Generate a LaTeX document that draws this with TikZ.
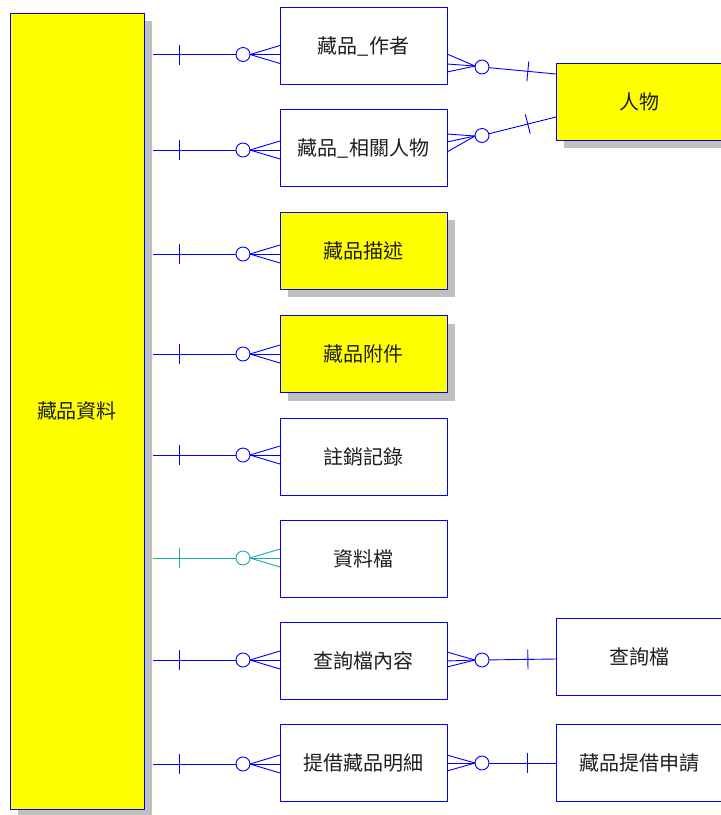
\documentclass[tikz,border=0pt]{standalone}
\usepackage{fontspec}
\newfontfamily\cjk{Noto Sans CJK TC}
\usetikzlibrary{calc,shadows}
\definecolor{erblue}{RGB}{0,0,255}
\definecolor{erteal}{RGB}{30,170,170}
\definecolor{shadowgray}{RGB}{192,192,192}
\definecolor{txt}{RGB}{30,30,30}
\definecolor{eryellow}{RGB}{255,255,0}
\tikzset{
  ent/.style={draw=erblue, line width=0.9pt, fill=white, rectangle, inner sep=0pt, outer sep=0pt,
    minimum width=167pt, minimum height=77pt, font=\cjk\fontsize{20}{23}\selectfont, text=txt},
  entY/.style={ent, fill=eryellow, drop shadow={shadow xshift=8pt, shadow yshift=-8pt, fill=shadowgray, opacity=1}},
  rel/.style={draw=erblue, line width=0.9pt},
  ring/.style={circle, draw=erblue, line width=0.9pt, fill=white, minimum size=14pt, inner sep=0pt, outer sep=0pt},
}
\begin{document}
\begin{tikzpicture}[x=1pt, y=-1pt]
\useasboundingbox (0,0) rectangle (721,815);

% big entity
\node[entY, minimum width=134pt, minimum height=796pt] (main) at (77,411) {藏品資料};

% middle entities
\node[ent]  (r1) at (363.5,46)  {藏品\_作者};
\node[ent]  (r2) at (363.5,148) {藏品\_相關人物};
\node[entY] (r3) at (363.5,250.5) {藏品描述};
\node[entY] (r4) at (363.5,354) {藏品附件};
\node[ent]  (r5) at (363.5,456.5) {註銷記錄};
\node[ent]  (r6) at (363.5,558.5) {資料檔};
\node[ent]  (r7) at (363.5,660.5) {查詢檔內容};
\node[ent]  (r8) at (363.5,762.5) {提借藏品明細};

% right entities
\node[entY] (p)  at (639.5,101.5) {人物};
\node[ent]  (q)  at (639.5,656.5) {查詢檔};
\node[ent]  (l)  at (639.5,762.5) {藏品提借申請};

% left relations: one (main) to many (rows)
\foreach \i/\y/\c in {1/54.5/erblue, 2/150/erblue, 3/254/erblue, 4/354/erblue, 5/455/erblue, 6/558/erteal, 7/660/erblue, 8/764/erblue}{
  \coordinate (s\i) at (153,\y);
  \node[ring, draw=\c] (c\i) at (243,\y) {};
  \draw[rel, draw=\c] (s\i) -- coordinate[pos=0.313] (b\i) (c\i.west);
  \draw[rel, draw=\c] ($(b\i)+(0,-10)$) -- ($(b\i)+(0,10)$);
  \draw[rel, draw=\c] (c\i.east) -- ($(r\i.west |- c\i)+(0,-9)$);
  \draw[rel, draw=\c] (c\i.east) -- (r\i.west |- c\i);
  \draw[rel, draw=\c] (c\i.east) -- ($(r\i.west |- c\i)+(0,9)$);
}

% right relations
\node[ring] (d1) at (482,67) {};
\coordinate (e1) at (556,74);
\draw[rel] (475,66) -- (447,54);
\draw[rel] (475,66) -- (447,64);
\draw[rel] (475,66) -- (447,72);
\draw[rel] (d1) -- coordinate[pos=0.58] (f1) (e1);
\draw[rel] ($(f1)!10pt!90:(e1)$) -- ($(f1)!10pt!-90:(e1)$);

\node[ring] (d2) at (482,135.5) {};
\coordinate (e2) at (556,117);
\draw[rel] (475,136) -- (447,134);
\draw[rel] (475,136) -- (447,142);
\draw[rel] (475,136) -- (447,152);
\draw[rel] (d2) -- coordinate[pos=0.58] (f2) (e2);
\draw[rel] ($(f2)!10pt!90:(e2)$) -- ($(f2)!10pt!-90:(e2)$);

\node[ring] (d7) at (482,660) {};
\coordinate (e7) at (q.west |- 0,659);
\draw[rel] (d7.west) -- ($(r7.east |- d7)+(0,-8)$);
\draw[rel] (d7.west) -- ($(r7.east |- d7)+(0,1)$);
\draw[rel] (d7.west) -- ($(r7.east |- d7)+(0,7)$);
\draw[rel] (d7) -- coordinate[pos=0.58] (f7) (e7);
\draw[rel] ($(f7)!10pt!90:(e7)$) -- ($(f7)!10pt!-90:(e7)$);

\node[ring] (d8) at (482,763) {};
\coordinate (e8) at (l.west |- d8);
\draw[rel] (d8.west) -- ($(r8.east |- d8)+(0,-8)$);
\draw[rel] (d8.west) -- (r8.east |- d8);
\draw[rel] (d8.west) -- ($(r8.east |- d8)+(0,8)$);
\draw[rel] (d8) -- coordinate[pos=0.57] (f8) (e8);
\draw[rel] ($(f8)!10pt!90:(e8)$) -- ($(f8)!10pt!-90:(e8)$);
\end{tikzpicture}
\end{document}
